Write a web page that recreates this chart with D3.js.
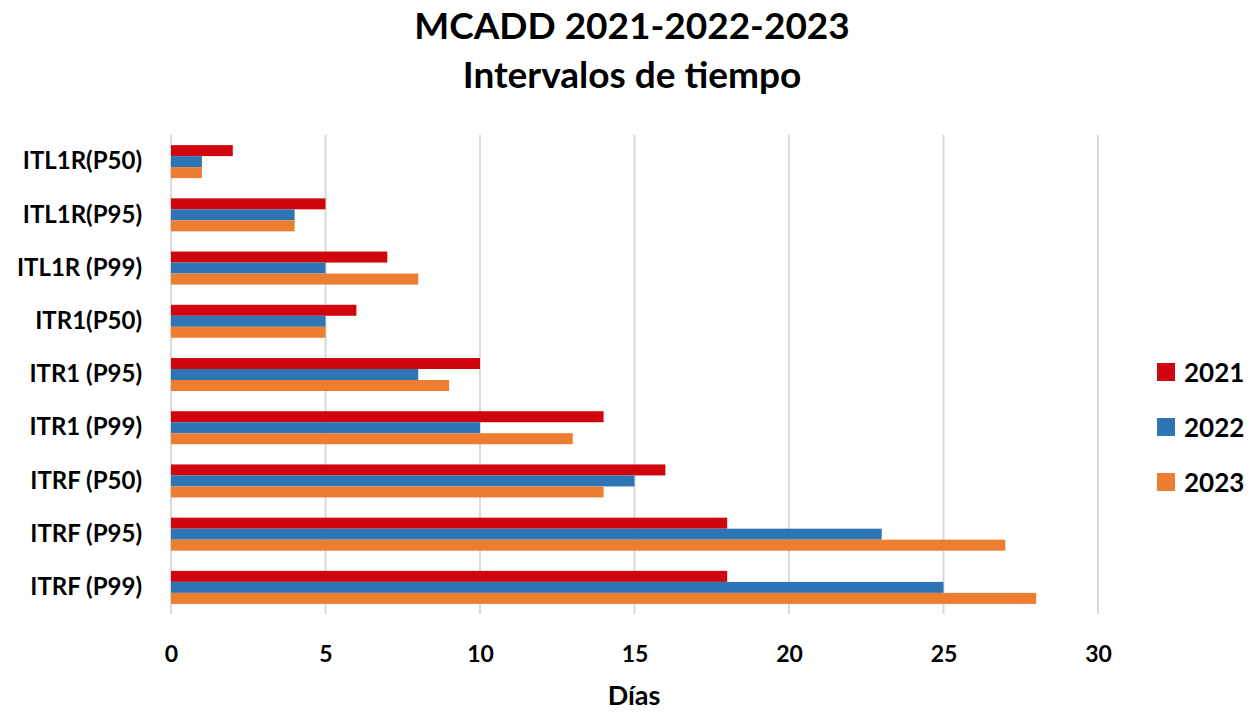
<!DOCTYPE html>
<html>
<head>
<meta charset="utf-8">
<script src="https://cdn.jsdelivr.net/npm/d3@7"></script>
<style>
  body { margin: 0; background: #fff; }
  text { font-family: Lato, "Open Sans", sans-serif; font-weight: bold; fill: #000; }
</style>
</head>
<body>
<div id="chart"></div>
<script>
// data
var categories = ["ITL1R(P50)", "ITL1R(P95)", "ITL1R (P99)", "ITR1(P50)", "ITR1 (P95)",
                  "ITR1 (P99)", "ITRF (P50)", "ITRF (P95)", "ITRF (P99)"];
var years = ["2021", "2022", "2023"];
var values2021 = [2, 5, 7, 6, 10, 14, 16, 18, 18];
var values2022 = [1, 4, 5, 5, 8, 10, 15, 23, 25];
var values2023 = [1, 4, 8, 5, 9, 13, 14, 27, 28];
var xTicks = [0, 5, 10, 15, 20, 25, 30];
var colors = ["#D0050E", "#2E75B6", "#ED7D31"];

var totalW = 1256, totalH = 713;
var margin = {top: 135, right: 158, bottom: 99, left: 171},
    width = totalW - margin.left - margin.right,
    height = totalH - margin.top - margin.bottom;

var svg = d3.select("#chart").append("svg")
    .attr("width", totalW)
    .attr("height", totalH);

var g = svg.append("g")
    .attr("transform", "translate(" + margin.left + "," + margin.top + ")");

var x = d3.scaleLinear().domain([0, 30]).range([0, width]);
var y = d3.scaleBand().domain(categories).range([0, height]).paddingInner(0.38).paddingOuter(0.19);
var yInner = d3.scaleBand().domain(years).range([0, y.bandwidth()]);

// gridlines
g.selectAll(".grid")
  .data(xTicks)
  .enter().append("line")
    .attr("x1", function(d) { return x(d); })
    .attr("x2", function(d) { return x(d); })
    .attr("y1", 0)
    .attr("y2", height)
    .style("stroke", "#d9d9d9")
    .style("stroke-width", 2);

// x axis labels
var xAxis = g.append("g")
    .attr("transform", "translate(0," + height + ")")
    .call(d3.axisBottom(x).tickValues(xTicks).tickSize(0).tickPadding(32));
xAxis.select(".domain").remove();
xAxis.selectAll("text").style("font-size", "23px").style("font-family", "Lato, sans-serif").style("font-weight", "bold");

// y axis labels
var yAxis = g.append("g")
    .call(d3.axisLeft(y).tickSize(0).tickPadding(29));
yAxis.select(".domain").remove();
yAxis.selectAll("text").style("font-size", "24px").style("font-family", "Lato, sans-serif").style("font-weight", "bold");

// bars
var series = [values2021, values2022, values2023];
series.forEach(function(vals, si) {
  g.selectAll(".bar" + si)
    .data(vals)
    .enter().append("rect")
      .attr("x", x(0))
      .attr("y", function(d, i) { return y(categories[i]) + yInner(years[si]); })
      .attr("width", function(d) { return x(d) - x(0); })
      .attr("height", yInner.bandwidth())
      .style("fill", colors[si]);
});

// title
svg.append("text")
  .attr("x", 632).attr("y", 39)
  .attr("text-anchor", "middle")
  .style("font-size", "37px")
  .text("MCADD 2021-2022-2023");
svg.append("text")
  .attr("x", 632).attr("y", 88)
  .attr("text-anchor", "middle")
  .style("font-size", "37px")
  .text("Intervalos de tiempo");

// x axis title
svg.append("text")
  .attr("x", 634).attr("y", 705)
  .attr("text-anchor", "middle")
  .style("font-size", "27px")
  .text("Días");

// legend
var legend = svg.selectAll(".legend")
  .data(years)
  .enter().append("g")
    .attr("transform", function(d, i) { return "translate(1157," + (363 + i * 55) + ")"; });
legend.append("rect")
  .attr("width", 18).attr("height", 18)
  .style("fill", function(d, i) { return colors[i]; });
legend.append("text")
  .attr("x", 27).attr("y", 19)
  .style("font-size", "26px")
  .text(function(d) { return d; });
</script>
</body>
</html>
